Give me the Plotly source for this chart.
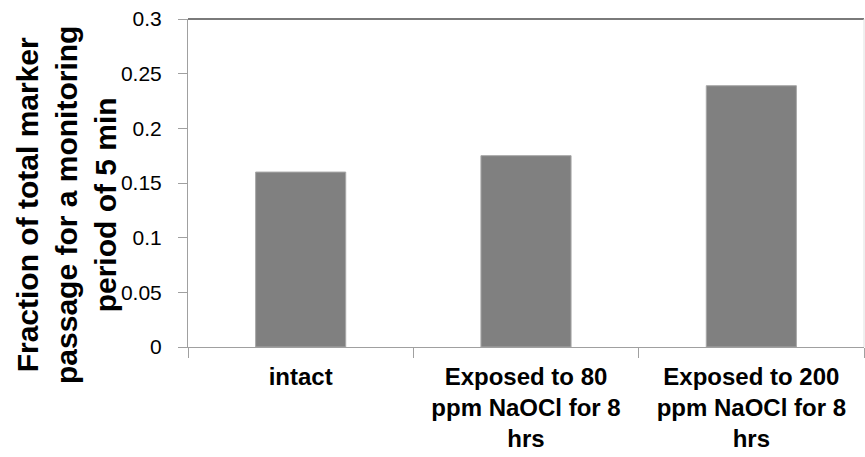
import plotly.graph_objects as go

# Category labels and measured fractions
categories = ["intact",
              "Exposed to 80<br>ppm NaOCl for 8<br>hrs",
              "Exposed to 200<br>ppm NaOCl for 8<br>hrs"]
fractions = [0.160, 0.175, 0.239]

y_ticks = [0, 0.05, 0.1, 0.15, 0.2, 0.25, 0.3]
y_tick_text = ["0", "0.05", "0.1", "0.15", "0.2", "0.25", "0.3"]

FONT = "Arial, Liberation Sans, sans-serif"

fig = go.Figure(
    go.Bar(
        x=categories,
        y=fractions,
        width=0.4,
        marker=dict(color="#808080", line=dict(color="#a8a8a8", width=1)),
    )
)

W, H = 865, 457
L, R, T, B = 188, 1, 19, 110

fig.update_layout(
    width=W, height=H,
    margin=dict(l=L, r=R, t=T, b=B, pad=0),
    paper_bgcolor="white",
    plot_bgcolor="white",
    showlegend=False,
    font=dict(family=FONT, color="#000000"),
    xaxis=dict(
        type="category",
        range=[-0.5, 2.5],
        automargin=False,
        showline=True, linecolor="#a0a0a0", linewidth=1,
        ticks="outside", tickson="boundaries", ticklen=10,
        tickcolor="#a0a0a0", tickwidth=1,
        showgrid=False, zeroline=False,
        tickfont=dict(family=FONT, size=24, color="#000000", weight="bold"),
        ticklabelstandoff=8,
    ),
    yaxis=dict(
        range=[0, 0.3],
        automargin=False,
        tickvals=y_ticks, ticktext=y_tick_text,
        showline=True, linecolor="#a0a0a0", linewidth=1,
        ticks="outside", ticklen=9, tickcolor="#a0a0a0", tickwidth=1,
        showgrid=False, zeroline=False,
        tickfont=dict(family=FONT, size=21, color="#000000"),
        ticklabelstandoff=12,
    ),
    shapes=[
        # top border of the plotting area
        dict(type="line", xref="paper", yref="paper", x0=0, x1=1, y0=1, y1=1,
             line=dict(color="#7a7a7a", width=2)),
        # faint right border
        dict(type="line", xref="paper", yref="paper", x0=1, x1=1, y0=0, y1=1,
             line=dict(color="#e0e0e0", width=1)),
    ],
    annotations=[
        dict(
            text="Fraction of total marker<br>passage for a monitoring<br>period of 5 min",
            xref="paper", yref="paper",
            x=(66 - L) / (W - L - R), y=(H - B - 205) / (H - B - T),
            xanchor="center", yanchor="middle",
            textangle=-90, showarrow=False,
            font=dict(family=FONT, size=30, color="#000000", weight="bold"),
        )
    ],
)

fig.write_html("out.html")
